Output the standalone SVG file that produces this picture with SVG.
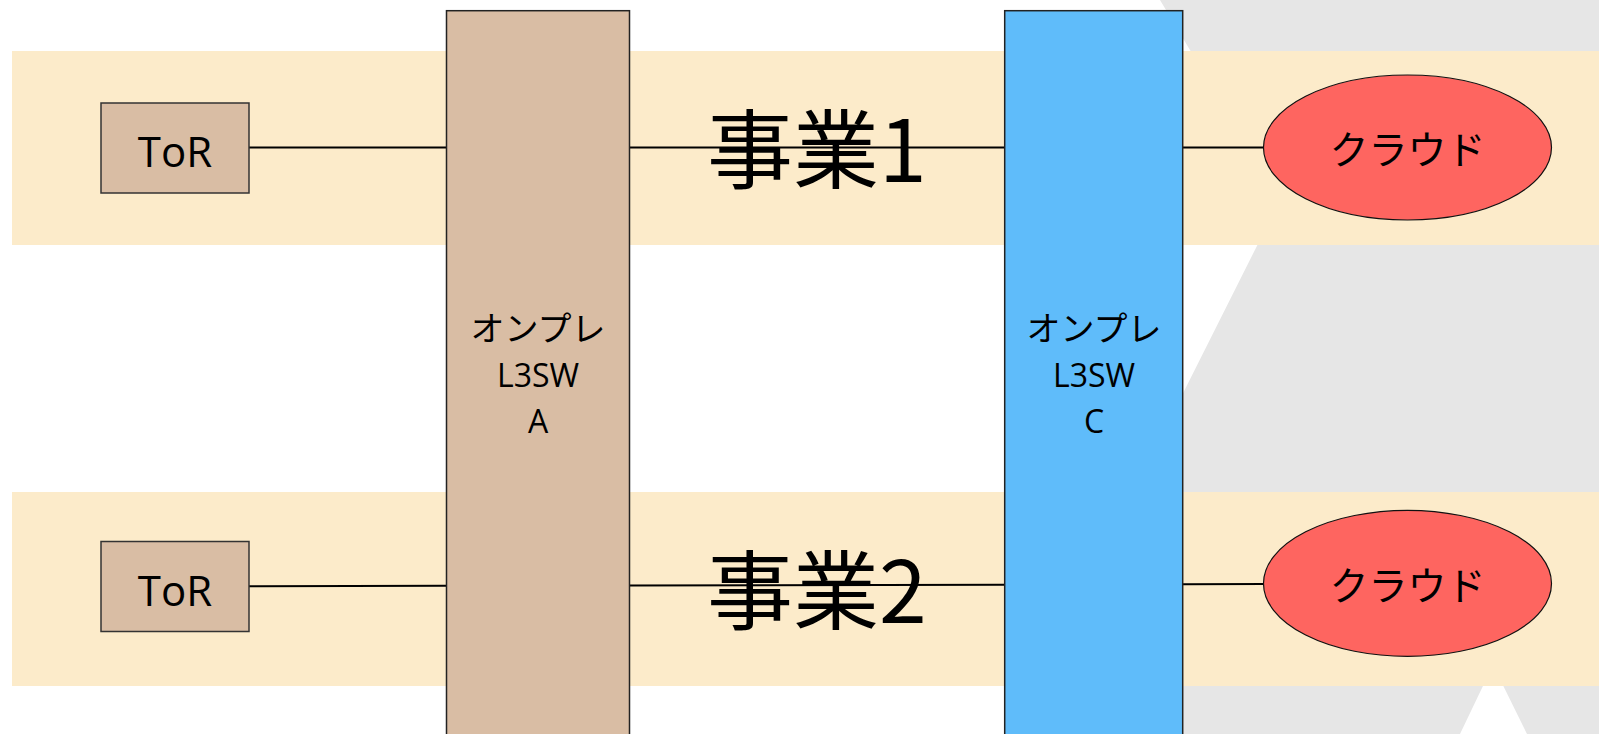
<svg xmlns="http://www.w3.org/2000/svg" width="1599" height="734" viewBox="0 0 1599 734">
  <style>
    .band { fill: #fcebca; }
    .sw { stroke: #222; stroke-width: 1.5; }
    .tor { fill: #d9bda4; stroke: #333; stroke-width: 1.5; }
    .cloud { fill: #fe6560; stroke: #111; stroke-width: 1.2; }
    .conn { stroke: #000; stroke-width: 2; fill: none; }
    .lbl { font-family: "Open Sans", "Noto Sans CJK JP", sans-serif; fill: #000; text-anchor: middle; }
    .jp { font-family: "Noto Sans CJK JP", sans-serif; fill: #000; }
  </style>
  <rect width="1599" height="734" fill="#ffffff"/>
  <g id="background">
    <polygon points="1160,0 1599,0 1599,734 1527,734 1493,665 1460,734 1012,734 1280,200" fill="#e6e6e6"/>
    <rect class="band" x="12" y="51" width="1587" height="194"/>
    <rect class="band" x="12" y="492" width="1587" height="194"/>
  </g>
  <g id="connectors">
    <line class="conn" x1="249" y1="147.5" x2="447" y2="147.5"/>
    <line class="conn" x1="629" y1="147.5" x2="1005" y2="147.5"/>
    <line class="conn" x1="1183" y1="147.5" x2="1264" y2="147.5"/>
    <line class="conn" x1="249" y1="586.3" x2="447" y2="585.7"/>
    <line class="conn" x1="629" y1="585.5" x2="1005" y2="584.7"/>
    <line class="conn" x1="1183" y1="584.3" x2="1264" y2="584"/>
  </g>
  <g id="label-jigyo1">
    <text class="jp" x="707" y="182" font-size="86">事業1</text>
  </g>
  <g id="label-jigyo2">
    <text class="jp" x="707" y="623" font-size="86">事業2</text>
  </g>
  <g id="tor1">
    <rect class="tor" x="101" y="103" width="148" height="90"/>
    <text class="lbl" x="175" y="166.5" font-size="42">ToR</text>
  </g>
  <g id="tor2">
    <rect class="tor" x="101" y="541.5" width="148" height="90"/>
    <text class="lbl" x="175" y="605.5" font-size="42">ToR</text>
  </g>
  <g id="l3sw-a">
    <rect class="sw" x="446.5" y="10.7" width="183" height="740" fill="#d9bda4"/>
    <text class="lbl" x="538" y="341" font-size="34">オンプレ</text>
    <text class="lbl" x="538" y="387" font-size="32">L3SW</text>
    <text class="lbl" x="538" y="433" font-size="32">A</text>
  </g>
  <g id="l3sw-c">
    <rect class="sw" x="1004.7" y="10.7" width="178" height="740" fill="#5fbcfa"/>
    <text class="lbl" x="1094" y="341" font-size="34">オンプレ</text>
    <text class="lbl" x="1094" y="387" font-size="32">L3SW</text>
    <text class="lbl" x="1094" y="433" font-size="32">C</text>
  </g>
  <g id="cloud1">
    <ellipse class="cloud" cx="1407.5" cy="147.5" rx="144" ry="72.5"/>
    <text class="lbl" x="1407.5" y="164" font-size="39">クラウド</text>
  </g>
  <g id="cloud2">
    <ellipse class="cloud" cx="1407.5" cy="583.4" rx="144" ry="73"/>
    <text class="lbl" x="1407.5" y="600" font-size="39">クラウド</text>
  </g>
</svg>
